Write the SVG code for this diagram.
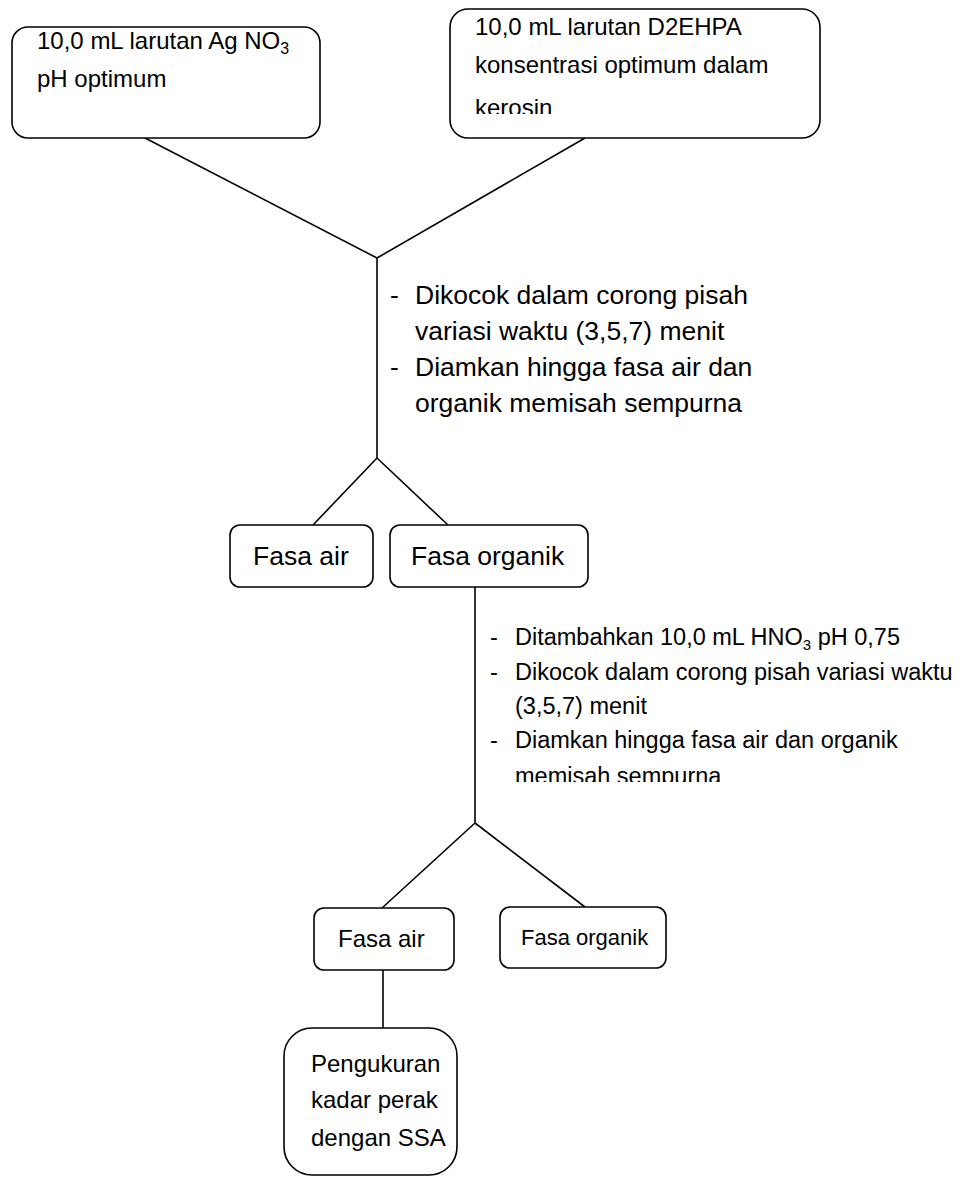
<svg xmlns="http://www.w3.org/2000/svg" width="974" height="1177" viewBox="0 0 974 1177">
<style>
.box{fill:#fff;stroke:#000;stroke-width:1.6}
.ln{stroke:#000;stroke-width:1.6;fill:none}
text{font-family:"Liberation Sans",Arial,sans-serif;fill:#000}
.t1{font-size:24px}
.t2{font-size:26.5px}
.t3{font-size:23.5px}
.t4{font-size:22px}
</style>
<defs>
<clipPath id="c2"><rect x="450" y="0" width="370" height="114"/></clipPath>
<clipPath id="c3"><rect x="480" y="600" width="494" height="182"/></clipPath>
</defs>
<rect width="974" height="1177" fill="#fff"/>
<g id="connectors">
<line class="ln" x1="145" y1="138" x2="377" y2="258"/>
<line class="ln" x1="585" y1="138" x2="377" y2="258"/>
<line class="ln" x1="377" y1="258" x2="377" y2="458"/>
<line class="ln" x1="377" y1="458" x2="313" y2="525"/>
<line class="ln" x1="377" y1="458" x2="448" y2="525"/>
<line class="ln" x1="475" y1="587" x2="475" y2="823"/>
<line class="ln" x1="475" y1="823" x2="382" y2="908"/>
<line class="ln" x1="475" y1="823" x2="585" y2="907"/>
<line class="ln" x1="383" y1="970" x2="383" y2="1028"/>
</g>
<g id="agno3">
<rect class="box" x="12" y="27" width="308" height="111" rx="16"/>
<text class="t1" x="37" y="49">10,0 mL larutan Ag NO<tspan font-size="16" dy="5">3</tspan></text>
<text class="t1" x="37" y="87">pH optimum</text>
</g>
<g id="d2ehpa">
<rect class="box" x="450" y="9" width="370" height="129" rx="18"/>
<g clip-path="url(#c2)">
<text class="t1" x="475" y="35">10,0 mL larutan D2EHPA</text>
<text class="t1" x="475" y="73">konsentrasi optimum dalam</text>
<text class="t1" x="475" y="116">kerosin</text>
</g>
</g>
<g id="step1">
<text class="t2" x="390" y="304">-</text>
<text class="t2" x="415" y="304">Dikocok dalam corong pisah</text>
<text class="t2" x="415" y="340">variasi waktu (3,5,7) menit</text>
<text class="t2" x="390" y="376">-</text>
<text class="t2" x="415" y="376">Diamkan hingga  fasa air dan</text>
<text class="t2" x="415" y="412">organik memisah sempurna</text>
</g>
<g id="fasa-air-1">
<rect class="box" x="230" y="525" width="143" height="62" rx="10"/>
<text class="t2" x="253" y="565">Fasa air</text>
</g>
<g id="fasa-organik-1">
<rect class="box" x="390" y="525" width="198" height="62" rx="10"/>
<text class="t2" x="411" y="565">Fasa organik</text>
</g>
<g id="step2">
<g clip-path="url(#c3)">
<text class="t3" x="490" y="645">-</text>
<text class="t3" x="515" y="645">Ditambahkan 10,0 mL HNO<tspan font-size="15" dy="5">3</tspan><tspan dy="-5"> pH 0,75</tspan></text>
<text class="t3" x="490" y="680">-</text>
<text class="t3" x="515" y="680">Dikocok dalam corong pisah variasi waktu</text>
<text class="t3" x="515" y="714">(3,5,7) menit</text>
<text class="t3" x="490" y="748">-</text>
<text class="t3" x="515" y="748">Diamkan hingga  fasa air dan organik</text>
<text class="t3" x="515" y="784">memisah sempurna</text>
</g>
</g>
<g id="fasa-air-2">
<rect class="box" x="314" y="908" width="140" height="62" rx="10"/>
<text class="t1" x="338" y="947">Fasa air</text>
</g>
<g id="fasa-organik-2">
<rect class="box" x="500" y="907" width="166" height="61" rx="10"/>
<text class="t4" x="521" y="945">Fasa organik</text>
</g>
<g id="ssa">
<rect class="box" x="284" y="1028" width="173" height="147" rx="28"/>
<text class="t1" x="311" y="1072" font-size="23">Pengukuran</text>
<text class="t1" x="311" y="1108" font-size="23">kadar perak</text>
<text class="t1" x="311" y="1146" font-size="23">dengan SSA</text>
</g>
</svg>
